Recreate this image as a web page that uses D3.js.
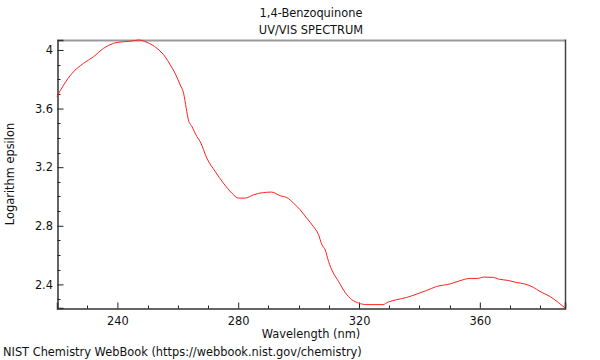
<!DOCTYPE html>
<html>
<head>
<meta charset="utf-8">
<script src="https://cdn.jsdelivr.net/npm/d3@7"></script>
<style>
  html, body { margin: 0; padding: 0; background: #fff; }
  svg { display: block; font-family: "DejaVu Sans", sans-serif; }
</style>
</head>
<body>
<svg id="chart" width="600" height="360"></svg>
<script>
const titleLines = ["1,4-Benzoquinone", "UV/VIS SPECTRUM"];
const xLabel = "Wavelength (nm)";
const yLabel = "Logarithm epsilon";
const footer = "NIST Chemistry WebBook (https://webbook.nist.gov/chemistry)";

const wavelength = [220, 222.2, 225, 228.8, 232.1, 235.4, 238.7, 242, 244.8, 247, 249.8, 253.1, 255.8, 257.5, 259.1, 260.8, 261.9, 262.8, 263.5, 264.7, 266.3, 267.4, 269.6, 272.4, 275.1, 277.9, 280.1, 282.3, 285, 288.4, 291.1, 293.9, 296.1, 298.3, 300.5, 302.7, 304.9, 306.6, 307.7, 308.8, 309.9, 311.5, 313.2, 315.4, 317.6, 319.8, 322.6, 325.3, 327.9, 329.7, 332.5, 335.8, 339.1, 342.4, 345.7, 350.1, 353.4, 356.7, 359.5, 361.1, 364.5, 366.1, 369.4, 372.2, 374.9, 377.7, 379.9, 383.2, 386, 388.2];
const logEpsilon = [3.682, 3.761, 3.841, 3.909, 3.954, 4.011, 4.045, 4.056, 4.061, 4.068, 4.052, 4.011, 3.954, 3.898, 3.841, 3.761, 3.705, 3.602, 3.523, 3.477, 3.409, 3.375, 3.262, 3.170, 3.091, 3.023, 2.989, 2.989, 3.011, 3.027, 3.030, 3.005, 2.993, 2.955, 2.909, 2.852, 2.795, 2.739, 2.671, 2.636, 2.557, 2.478, 2.421, 2.345, 2.296, 2.273, 2.262, 2.262, 2.262, 2.280, 2.296, 2.311, 2.334, 2.359, 2.386, 2.403, 2.425, 2.441, 2.441, 2.450, 2.448, 2.437, 2.427, 2.413, 2.403, 2.380, 2.352, 2.318, 2.277, 2.239];
const xMajorTicks = [240, 280, 320, 360];
const xMinorTicks = [230, 250, 260, 270, 290, 300, 310, 330, 340, 350, 370, 380];
const yMajorTicks = [2.4, 2.8, 3.2, 3.6, 4.0];
const yMinorTicks = [2.3, 2.5, 2.6, 2.7, 2.9, 3.0, 3.1, 3.3, 3.4, 3.5, 3.7, 3.8, 3.9];

const data = wavelength.map((w, i) => ({ x: w, y: logEpsilon[i] }));

const plotL = 57, plotR = 565, plotT = 40, plotB = 308;
const fs = 11.4;
const svg = d3.select("#chart");

const x = d3.scaleLinear().domain(d3.extent(wavelength)).range([plotL, plotR]);
const y = d3.scaleLinear().domain(d3.extent(logEpsilon)).range([plotB, plotT]);

// frame: top and right
svg.append("line").attr("x1", plotL).attr("x2", plotR).attr("y1", plotT + 0.5).attr("y2", plotT + 0.5)
  .attr("stroke", "#9a9a9a").attr("stroke-width", 2);
svg.append("line").attr("x1", plotR + 0.5).attr("x2", plotR + 0.5).attr("y1", plotT - 0.5).attr("y2", plotB)
  .attr("stroke", "#444").attr("stroke-width", 1.5);

// x axis (ticks inside)
const xAxis = d3.axisBottom(x).tickValues(xMajorTicks).tickSize(-6).tickPadding(8).tickFormat(d3.format("d"));
const gx = svg.append("g").attr("transform", `translate(0,${plotB + 0.5})`).call(xAxis);
gx.selectAll(".tick line").attr("stroke", "#222");
gx.append("g").selectAll("line").data(xMinorTicks.filter(v => v > x.domain()[0] && v < x.domain()[1]))
  .join("line").attr("x1", d => Math.round(x(d)) + 0.5).attr("x2", d => Math.round(x(d)) + 0.5)
  .attr("y1", 0).attr("y2", -3).attr("stroke", "#222");

// y axis (ticks inside)
const yAxis = d3.axisLeft(y).tickValues(yMajorTicks).tickSize(-6).tickPadding(4.5)
  .tickFormat(d => d === 4 ? "4" : d3.format(".1f")(d));
const gy = svg.append("g").attr("transform", `translate(${plotL + 0.5},0)`).call(yAxis);
gy.selectAll(".tick line").attr("stroke", "#222");
gy.append("g").selectAll("line").data(yMinorTicks.filter(v => v > y.domain()[0] && v < y.domain()[1]))
  .join("line").attr("y1", d => Math.round(y(d)) + 0.5).attr("y2", d => Math.round(y(d)) + 0.5)
  .attr("x1", 0).attr("x2", 3).attr("stroke", "#222");

[gx, gy].forEach(g => {
  g.select(".domain").attr("stroke", "#333").attr("stroke-width", 1.5);
  g.selectAll(".tick text").attr("font-size", fs).attr("fill", "#111").attr("font-family", "DejaVu Sans, sans-serif");
});

// curve
const line = d3.line().x(d => x(d.x)).y(d => y(d.y)).curve(d3.curveMonotoneX);
svg.append("path").datum(data).attr("d", line).attr("fill", "none")
  .attr("stroke", "#ff2020").attr("stroke-width", 1);

// titles
svg.append("g").selectAll("text").data(titleLines).join("text")
  .attr("x", (plotL + plotR) / 2).attr("y", (d, i) => 17 + i * 17)
  .attr("text-anchor", "middle").attr("font-size", fs).attr("fill", "#111").text(d => d);

svg.append("text").attr("x", (plotL + plotR) / 2).attr("y", 338)
  .attr("text-anchor", "middle").attr("font-size", fs).attr("fill", "#111").text(xLabel);

svg.append("text").attr("transform", `translate(14,${(plotT + plotB) / 2}) rotate(-90)`)
  .attr("text-anchor", "middle").attr("font-size", fs).attr("fill", "#111").text(yLabel);

svg.append("text").attr("x", 3).attr("y", 356).attr("font-size", fs).attr("fill", "#111").text(footer);
</script>
</body>
</html>
